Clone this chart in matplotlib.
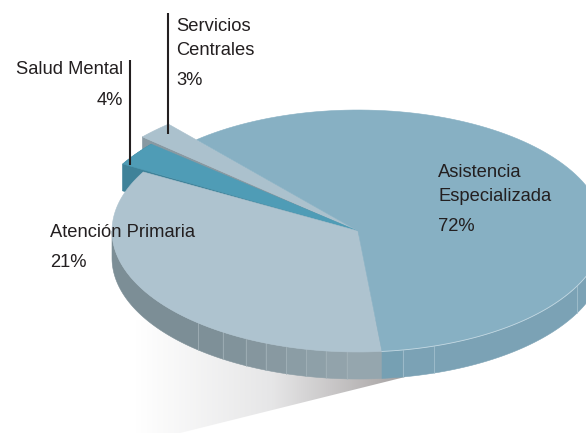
import matplotlib.pyplot as plt
import numpy as np
from matplotlib.colors import LinearSegmentedColormap, to_rgb
from matplotlib.patches import Polygon

plt.rcParams["font.family"] = ["Liberation Sans", "DejaVu Sans"]

labels = ["Asistencia\nEspecializada", "Atención Primaria", "Salud Mental", "Servicios\nCentrales"]
shares = [72, 21, 4, 3]

# the drawn slices do not follow the percentages, so the angles are read off the picture
start_deg = [275.6, 150.8, 139.5, 131.1]
end_deg = [491.0, 275.6, 149.9, 138.4]
radius = [1.0, 1.0, 1.105, 1.172]

top_colors = ["#87b0c3", "#aec3cf", "#4f9cb6", "#abc1cd"]
side_colors = ["#7ba2b5", "#7c8e96", "#3f8299", "#8899a2"]

primary_facets = [229.5, 236.7, 242.9, 248, 253, 257.8, 262.5, 267.4]
special_facets = [280.5, 288, 333, 342, 350]

CX, CY, RX, RY, DEPTH = 358, 231, 246, 121, 27


def pt(deg, r=1.0, drop=0):
    a = np.radians(deg)
    return np.column_stack([CX + r * RX * np.cos(a), CY - r * RY * np.sin(a) + drop])


def arc(a, b, r=1.0, drop=0):
    return pt(np.linspace(a, b, 120), r, drop)


def blend(c1, c2, t):
    return tuple((1 - t) * np.array(to_rgb(c1)) + t * np.array(to_rgb(c2)))


fig = plt.figure(figsize=(5.86, 4.33), dpi=100)
ax = fig.add_axes([0, 0, 1, 1])
ax.set_xlim(0, 586)
ax.set_ylim(433, 0)
ax.axis("off")

# shadow under the pie
fade = LinearSegmentedColormap.from_list("fade", ["#ffffff", "#e6e6e7", "#a39f9f"])
img = ax.imshow(np.linspace(0, 1, 256).reshape(1, -1), extent=(135, 410, 433, 320),
                cmap=fade, aspect="auto", zorder=1)
clip = Polygon([(135, 320), (405, 320), (405, 377), (180, 433), (135, 433)], transform=ax.transData)
img.set_clip_path(clip)
ax.set_xlim(0, 586)
ax.set_ylim(433, 0)

z = 2


def face(points, color, edge=None):
    global z
    ax.add_patch(Polygon(points, closed=True, fc=color, ec=edge or color, lw=0.4, zorder=z))
    z += 1


def cut_face(deg, r, color):
    corner = pt(deg, r)[0]
    face([corner, (CX, CY), (CX, CY + DEPTH), corner + [0, DEPTH]], color)


def wedge(i):
    face(np.vstack([[(CX, CY)], arc(start_deg[i], end_deg[i], radius[i])]), top_colors[i])


# back to front: servicios, salud mental, then the two big slices
cut_face(end_deg[3], radius[3], side_colors[3])
wedge(3)
cut_face(end_deg[2], radius[2], side_colors[2])
face(np.vstack([arc(start_deg[2], end_deg[2], radius[2]),
                arc(end_deg[2], start_deg[2], radius[2], DEPTH)]), side_colors[2])
wedge(2)

# side walls, split in the facets the reference shows
edges = [180] + primary_facets + [end_deg[1]]
for j in range(len(edges) - 1):
    a, b = edges[j], edges[j + 1]
    c = side_colors[1] if j == 0 else blend("#7e9098", "#95a6ae", (j - 1) / (len(edges) - 3))
    face(np.vstack([arc(a, b), arc(b, a, 1.0, DEPTH)]), c)
    if j:
        ax.plot(*np.vstack([pt(a), pt(a, 1.0, DEPTH)]).T, color="#a6b5bc", lw=0.5, zorder=z)

edges = [start_deg[0]] + special_facets + [360]
for j in range(len(edges) - 1):
    a, b = edges[j], edges[j + 1]
    face(np.vstack([arc(a, b), arc(b, a, 1.0, DEPTH)]), "#76a0b3" if j == 0 else side_colors[0])
    if j:
        ax.plot(*np.vstack([pt(a), pt(a, 1.0, DEPTH)]).T, color="#a9c5d2", lw=0.5, zorder=z)

wedge(1)
wedge(0)
ax.plot(*arc(start_deg[0], 360, 1.0).T, color="#c3d8e2", lw=0.6, zorder=z)

# leader lines
ax.plot([168, 168], [13, 134], color="#231f20", lw=1.5, zorder=50, solid_capstyle="butt")
ax.plot([130, 130], [60, 165], color="#231f20", lw=1.5, zorder=50, solid_capstyle="butt")


def write(x, y, s, ha="left"):
    ax.text(x, y, s, fontsize=13.2, color="#231f20", ha=ha, va="baseline", zorder=60)


write(438, 177, labels[0].split("\n")[0])
write(438, 201, labels[0].split("\n")[1])
write(438, 231, f"{shares[0]}%")
write(50, 237, labels[1])
write(50, 267, f"{shares[1]}%")
write(123, 74, labels[2], ha="right")
write(123, 105, f"{shares[2]}%", ha="right")
write(176, 31, labels[3].split("\n")[0])
write(176, 55, labels[3].split("\n")[1])
write(176, 85, f"{shares[3]}%")

fig.savefig("out.png", dpi=100)
